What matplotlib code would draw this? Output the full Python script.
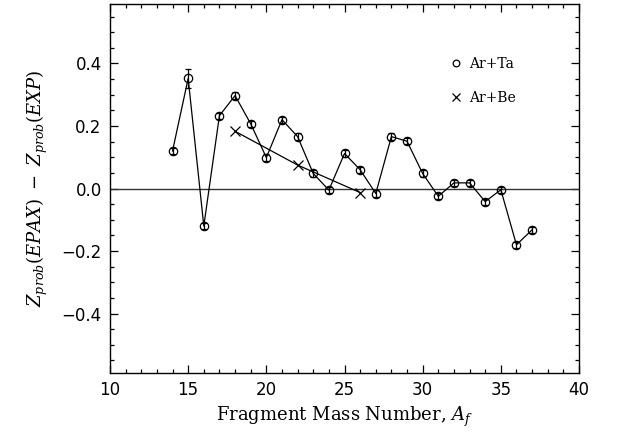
import matplotlib
matplotlib.use("Agg")
import matplotlib.pyplot as plt
from matplotlib.ticker import MultipleLocator

plt.rcParams['mathtext.fontset'] = 'dejavuserif'

# Ar+Ta
a_ta = [14, 15, 16, 17, 18, 19, 20, 21, 22, 23, 24, 25, 26, 27, 28, 29, 30, 31, 32, 33, 34, 35, 36, 37]
z_ta = [0.120, 0.352, -0.120, 0.233, 0.297, 0.207, 0.099, 0.220, 0.166, 0.048, -0.005, 0.112,
        0.060, -0.016, 0.166, 0.151, 0.048, -0.025, 0.018, 0.018, -0.042, -0.004, -0.180, -0.132]
err_ta = [0.010, 0.030, 0.010, 0.010, 0.010, 0.010, 0.010, 0.010, 0.010, 0.010, 0.010, 0.010,
          0.010, 0.010, 0.010, 0.010, 0.010, 0.010, 0.010, 0.010, 0.010, 0.010, 0.010, 0.010]
# Ar+Be
a_be = [18, 22, 26]
z_be = [0.183, 0.075, -0.013]

fig = plt.figure(figsize=(6.18, 4.37), dpi=100)
ax = fig.add_axes([110/618, 1 - 373/437, (579-110)/618, (373-4)/437])

ax.axhline(0, color='#333333', lw=1.0)
ax.plot(a_ta, z_ta, color='black', lw=0.9)
ax.errorbar(a_ta, z_ta, yerr=err_ta, fmt='none', ecolor='black', elinewidth=0.9, capsize=2.5, capthick=0.9)
ax.plot(a_ta, z_ta, 'o', mfc='none', mec='black', ms=6, mew=0.9, label='Ar+Ta', linestyle='none')
ax.plot(a_be, z_be, color='black', lw=0.9)
ax.plot(a_be, z_be, 'x', color='black', ms=7.5, mew=0.9, label='Ar+Be', linestyle='none')

ax.set_xlim(10, 40)
ax.set_ylim(-0.59, 0.59)
ax.xaxis.set_major_locator(MultipleLocator(5))
ax.xaxis.set_minor_locator(MultipleLocator(1))
ax.yaxis.set_major_locator(MultipleLocator(0.2))
ax.yaxis.set_minor_locator(MultipleLocator(0.05))
ax.tick_params(which='both', direction='in', top=True, right=True, labelsize=12)
ax.tick_params(which='major', length=6, width=0.9, pad=6)
ax.tick_params(which='minor', length=3, width=0.9)
ax.set_yticks([-0.4, -0.2, 0.0, 0.2, 0.4])
ax.set_yticklabels(['\u22120.4', '\u22120.2', '0.0', '0.2', '0.4'])
for s in ax.spines.values():
    s.set_linewidth(1.0)

ax.set_xlabel(r'Fragment Mass Number, $A_f$', fontsize=13, family='DejaVu Serif', labelpad=4)
ax.set_ylabel(r'$Z_{prob}(EPAX)\ -\ Z_{prob}(EXP)$', fontsize=13, labelpad=8)

leg = ax.legend(loc='upper left', bbox_to_anchor=(0.7, 0.89), frameon=False,
                prop={'family': 'DejaVu Serif', 'size': 10}, handlelength=0.8, handletextpad=0.5,
                labelspacing=1.4, markerscale=0.8)

fig.savefig('out.png', dpi=100)
